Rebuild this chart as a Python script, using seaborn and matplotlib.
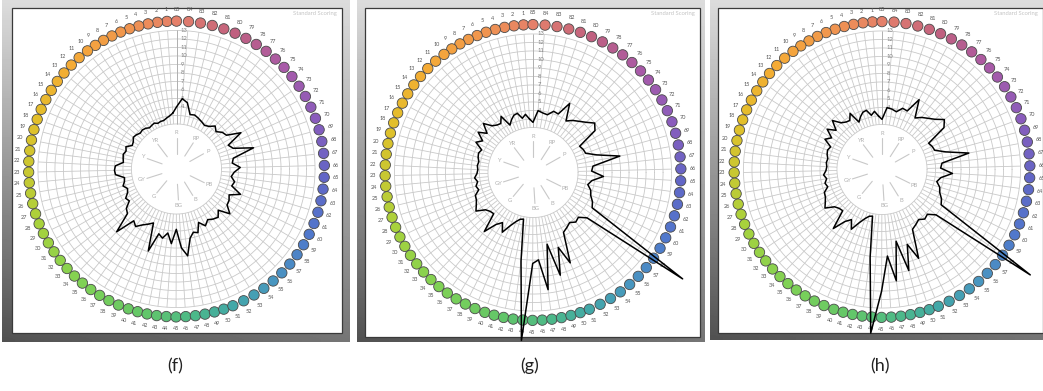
import numpy as np
import matplotlib
matplotlib.use("Agg")
import matplotlib.pyplot as plt
import seaborn as sns
from matplotlib import transforms
from matplotlib.colors import LinearSegmentedColormap
from matplotlib.patches import Rectangle

# ---- data -------------------------------------------------------------
ITEMS = np.arange(1, 86)

SCORES_F = [
    3.3, 3.0, 2.8, 2.6, 2.6, 2.5, 2.7, 2.6, 2.5, 2.7,
    2.8, 2.7, 2.9, 3.0, 2.7, 2.6, 3.2, 3.0, 3.2, 3.1,
    3.0, 3.9, 4.0, 3.9, 2.9, 3.0, 3.3, 2.9, 3.1, 3.6,
    3.4, 4.2, 4.5, 6.9, 4.6, 5.0, 4.4, 4.0, 3.6, 6.9,
    4.6, 5.0, 4.3, 5.5, 3.8, 6.0, 7.0, 5.0, 4.4, 4.6,
    3.5, 4.2, 3.7, 4.0, 4.2, 3.6, 4.9, 4.0, 3.9, 3.6,
    4.8, 3.5, 3.7, 3.2, 3.5, 4.2, 3.3, 3.5, 6.1, 3.8,
    3.4, 5.4, 3.8, 3.6, 3.1, 3.5, 3.0, 2.8, 3.0, 3.2,
    3.4, 3.3, 4.6, 5.0, 4.0,
]
SCORES_G = [
    3.0, 3.6, 3.2, 3.9, 3.8, 3.4, 2.9, 4.3, 3.6, 3.7,
    4.0, 4.9, 3.8, 4.7, 3.7, 4.3, 3.3, 3.5, 3.4, 3.2,
    3.3, 3.2, 3.3, 3.6, 3.3, 3.6, 3.4, 4.0, 4.1, 4.4,
    4.8, 3.8, 3.5, 3.4, 5.7, 4.2, 3.6, 4.6, 3.5, 2.8,
    2.4, 2.3, 7.2, 16.5, 7.4, 7.0, 10.6, 5.3, 9.2, 6.0,
    8.2, 4.6, 4.3, 4.0, 4.4, 4.2, 5.0, 18.3, 4.8, 4.5,
    4.0, 3.8, 3.3, 3.7, 5.0, 3.6, 3.8, 7.1, 4.5, 3.3,
    3.2, 3.0, 5.5, 6.0, 5.3, 4.8, 4.4, 3.9, 5.9, 4.2,
    4.3, 3.7, 3.8, 4.0, 2.6,
]
SCORES_H = [
    3.0, 3.6, 3.2, 3.9, 3.8, 3.4, 2.9, 4.3, 3.6, 3.7,
    4.0, 4.9, 3.8, 4.7, 3.7, 4.3, 3.3, 3.5, 3.4, 3.2,
    3.3, 3.2, 3.3, 3.6, 3.3, 3.6, 3.4, 4.0, 4.1, 4.4,
    4.8, 3.8, 3.5, 3.4, 5.7, 4.2, 3.6, 4.6, 3.5, 2.8,
    2.4, 2.3, 7.1, 16.0, 11.0, 6.9, 9.9, 5.3, 9.0, 6.0,
    8.0, 4.6, 4.3, 4.0, 4.4, 4.2, 5.0, 18.1, 4.8, 4.5,
    4.0, 3.8, 3.3, 3.7, 5.0, 3.6, 3.8, 7.1, 4.5, 3.3,
    3.2, 3.0, 5.5, 6.1, 5.3, 4.8, 4.4, 3.9, 6.0, 4.2,
    4.3, 3.7, 3.9, 4.0, 2.6,
]
PANEL_LABELS = ["(f)", "(g)", "(h)"]
HUE_NAMES = ["R", "YR", "Y", "GY", "G", "BG", "B", "PB", "P", "RP"]
HUE_CAPS = [85, 10, 18, 27, 35, 46, 53, 60, 72, 78]
SCALE_TICKS = list(range(4, 14))
RINGS = list(range(2, 14))

# ---- layout -----------------------------------------------------------
W, H = 1043, 391
R0, RMAX = -3.3, 16.3          # radial origin / limit of the score axis
PX = 8.5                       # pixels per score unit
DOT_R, NUM_R = 14.1, 15.5

# caps are not spread evenly round the sheet: cap index -> angle (deg)
CAP_ANCHORS = [0, 10, 22.7, 40, 51, 65.7, 85]
ANGLE_ANCHORS = [90, 127, 180, 251, 292.4, 360, 450]


def cap_theta(k):
    return np.deg2rad(np.interp(k, CAP_ANCHORS, ANGLE_ANCHORS))


hue_cmap = LinearSegmentedColormap.from_list("caps", [
    (0 / 85, "#e5806a"), (5 / 85, "#f09450"), (12 / 85, "#f5ab35"),
    (18 / 85, "#e3bf2a"), (23 / 85, "#c8c832"), (28 / 85, "#a8d23c"),
    (35 / 85, "#80d255"), (42 / 85, "#62c66a"), (47 / 85, "#4cb88a"),
    (51 / 85, "#42a8a8"), (55 / 85, "#4896c0"), (60 / 85, "#5078cc"),
    (65 / 85, "#6266c6"), (70 / 85, "#8a5cbc"), (75 / 85, "#a85aa8"),
    (80 / 85, "#c06080"), (85 / 85, "#e5806a"),
])

panels = [
    dict(scores=SCORES_F, outer=(2, 0, 350, 342), inner=(12, 8, 342, 333), center=(176.5, 169.0), label_x=175),
    dict(scores=SCORES_G, outer=(357, 0, 705, 342), inner=(365, 8, 700, 337), center=(533.0, 172.5), label_x=530),
    dict(scores=SCORES_H, outer=(710, 0, 1043, 340), inner=(718, 8, 1043, 333), center=(882.0, 169.5), label_x=880),
]

sns.set_theme(style="white")
plt.rcParams["font.family"] = ["Lato", "DejaVu Sans"]

fig = plt.figure(figsize=(W / 100, H / 100), dpi=100)
bg = fig.add_axes([0, 0, 1, 1])
bg.set_xlim(0, W)
bg.set_ylim(H, 0)
bg.axis("off")

theta_fine = np.linspace(0, 2 * np.pi, 500)
thetas = cap_theta(ITEMS)
colors = hue_cmap(ITEMS / 85)

for p, lab in zip(panels, PANEL_LABELS):
    # gray bevel frame and white sheet
    x0, y0, x1, y1 = p["outer"]
    yy, xx = np.mgrid[0:1:60j, 0:1:60j]
    grad = 0.86 - 0.40 * yy - 0.14 * (1 - xx) * yy
    bg.imshow(grad, extent=(x0, x1, y1, y0), cmap="gray", vmin=0, vmax=1,
              aspect="auto", interpolation="bilinear", zorder=0)
    ix0, iy0, ix1, iy1 = p["inner"]
    bg.add_patch(Rectangle((ix0, iy0), ix1 - ix0, iy1 - iy0, facecolor="white",
                           edgecolor="#3a3a3a", lw=0.9, zorder=1))
    bg.text(ix1 - 5, iy0 + 5, "Standard Scoring", ha="right", va="center",
            fontsize=4.2, color="#c4c4c4", zorder=2)
    bg.text(p["label_x"], 366, lab, ha="center", va="center", fontsize=13,
            color="#222222")

    cx, cy = p["center"]
    rad = (RMAX - R0) * PX
    ax = fig.add_axes([(cx - rad) / W, (H - cy - rad) / H, 2 * rad / W, 2 * rad / H],
                      projection="polar")
    ax.set_ylim(R0, RMAX)
    ax.axis("off")

    # polar grid of the scoring sheet
    for v in RINGS:
        ax.plot(theta_fine, np.full_like(theta_fine, v), color="#c9c9c9", lw=0.6, zorder=1)
    ax.vlines(thetas, RINGS[0], RINGS[-1], color="#c9c9c9", lw=0.6, zorder=1)
    ax.vlines(np.pi / 2, RINGS[0], RINGS[-1], color="#b0b0b0", lw=0.7, zorder=1)

    tick_tr = transforms.offset_copy(ax.transData, fig=fig, x=4.5, y=0, units="dots")
    for v in SCALE_TICKS:
        ax.text(np.pi / 2, v, str(v), transform=tick_tr, ha="left", va="center",
                fontsize=4.2, color="#808080", zorder=2)

    # hue names in the centre
    for name, cap in zip(HUE_NAMES, HUE_CAPS):
        t = cap_theta(cap)
        ax.plot([t, t], [-1.5, 0.35], color="#c8c8c8", lw=0.8, zorder=2)
        ax.text(t, 0.95, name, ha="center", va="center", fontsize=4.2,
                color="#b0b0b0", zorder=2)

    # error score polygon
    vals = np.asarray(p["scores"])
    ax.plot(np.append(thetas, thetas[0]), np.append(vals, vals[0]), color="black",
            lw=1.1, zorder=8, clip_on=False)

    # cap markers and numbers
    ax.scatter(thetas, np.full(len(ITEMS), DOT_R), s=56, c=colors,
               edgecolors="#4a4a4a", linewidths=0.6, zorder=5, clip_on=False)
    for k, t in zip(ITEMS, thetas):
        ax.text(t, NUM_R, str(k), ha="center", va="center", fontsize=4.0,
                color="#555555", zorder=5, clip_on=False)

fig.savefig("out.png", dpi=100)
